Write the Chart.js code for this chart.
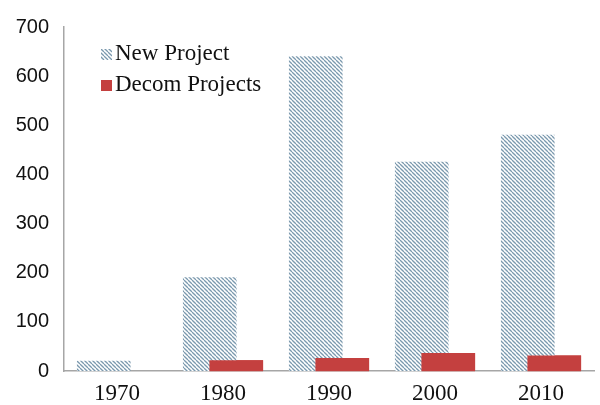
<!DOCTYPE html>
<html>
<head>
<meta charset="utf-8">
<script src="https://cdn.jsdelivr.net/npm/chart.js@4.4.1/dist/chart.umd.min.js"></script>
<style>
  html, body { margin: 0; padding: 0; background: #fff; }
  #wrap { width: 600px; height: 405px; }
</style>
</head>
<body>
<div id="wrap"><canvas id="chart" width="600" height="405"></canvas></div>
<script>
// chart data
const categories = ['1970', '1980', '1990', '2000', '2010'];
const newProjects = [20, 190, 640, 425, 480];
const decomProjects = [null, 21, 26, 36, 31];
const yTicks = [0, 100, 200, 300, 400, 500, 600, 700];

// diagonal hatch for the "New Project" bars
function makeHatch() {
  const s = 4;
  const c = document.createElement('canvas');
  c.width = s; c.height = s;
  const g = c.getContext('2d');
  g.fillStyle = '#ffffff';
  g.fillRect(0, 0, s, s);
  g.strokeStyle = '#7b99ae';
  g.lineWidth = 1.3;
  for (let k = -1; k <= 1; k++) {
    g.beginPath();
    g.moveTo(0, k * s);
    g.lineTo(s, s + k * s);
    g.stroke();
  }
  return g.createPattern(c, 'repeat');
}

const hatch = makeHatch();
const red = '#c4403f';

// Chart.js paints dataset 0 last; repaint the red bars so they sit on top
const redOnTop = {
  id: 'redOnTop',
  afterDatasetsDraw(chart) {
    const meta = chart.getDatasetMeta(1);
    chart.ctx.save();
    meta.controller.draw();
    chart.ctx.restore();
  }
};

// legend drawn inside the plot, top-left
const innerLegend = {
  id: 'innerLegend',
  afterDraw(chart) {
    const ctx = chart.ctx;
    const items = [
      { text: chart.data.datasets[0].label, fill: hatch, y: 54 },
      { text: chart.data.datasets[1].label, fill: red, y: 85 }
    ];
    ctx.save();
    ctx.font = '23px "Liberation Serif", serif';
    ctx.textBaseline = 'middle';
    items.forEach(it => {
      ctx.fillStyle = it.fill;
      ctx.fillRect(101, it.y - 5, 11, 11);
      ctx.fillStyle = '#111';
      ctx.fillText(it.text, 115, it.y);
    });
    ctx.restore();
  }
};

new Chart(document.getElementById('chart'), {
  type: 'bar',
  data: {
    labels: categories,
    datasets: [
      {
        label: 'New Project',
        data: newProjects,
        backgroundColor: hatch,
        categoryPercentage: 0.5,
        barPercentage: 2.0
      },
      {
        label: 'Decom Projects',
        data: decomProjects,
        backgroundColor: red,
        categoryPercentage: 0.5,
        barPercentage: 2.0
      }
    ]
  },
  options: {
    responsive: false,
    animation: false,
    layout: { padding: { top: 22, right: 6, left: 0, bottom: 0 } },
    plugins: {
      legend: { display: false },
      tooltip: { enabled: false }
    },
    scales: {
      x: {
        grid: { display: false, drawTicks: false },
        border: { display: true, color: '#a6a6a6', width: 1.5 },
        ticks: {
          color: '#111',
          padding: 9,
          font: { family: '"Liberation Serif", serif', size: 23 }
        },
        afterFit(scale) { scale.height = 34; }
      },
      y: {
        min: 0,
        max: 700,
        afterBuildTicks(scale) { scale.ticks = yTicks.map(v => ({ value: v })); },
        grid: { display: false, drawTicks: false },
        border: { display: true, color: '#a6a6a6', width: 1.5 },
        ticks: {
          color: '#111',
          padding: 15,
          font: { family: '"Liberation Sans", Arial, sans-serif', size: 20 }
        },
        afterFit(scale) { scale.width = 64; }
      }
    }
  },
  plugins: [redOnTop, innerLegend]
});
</script>
</body>
</html>
